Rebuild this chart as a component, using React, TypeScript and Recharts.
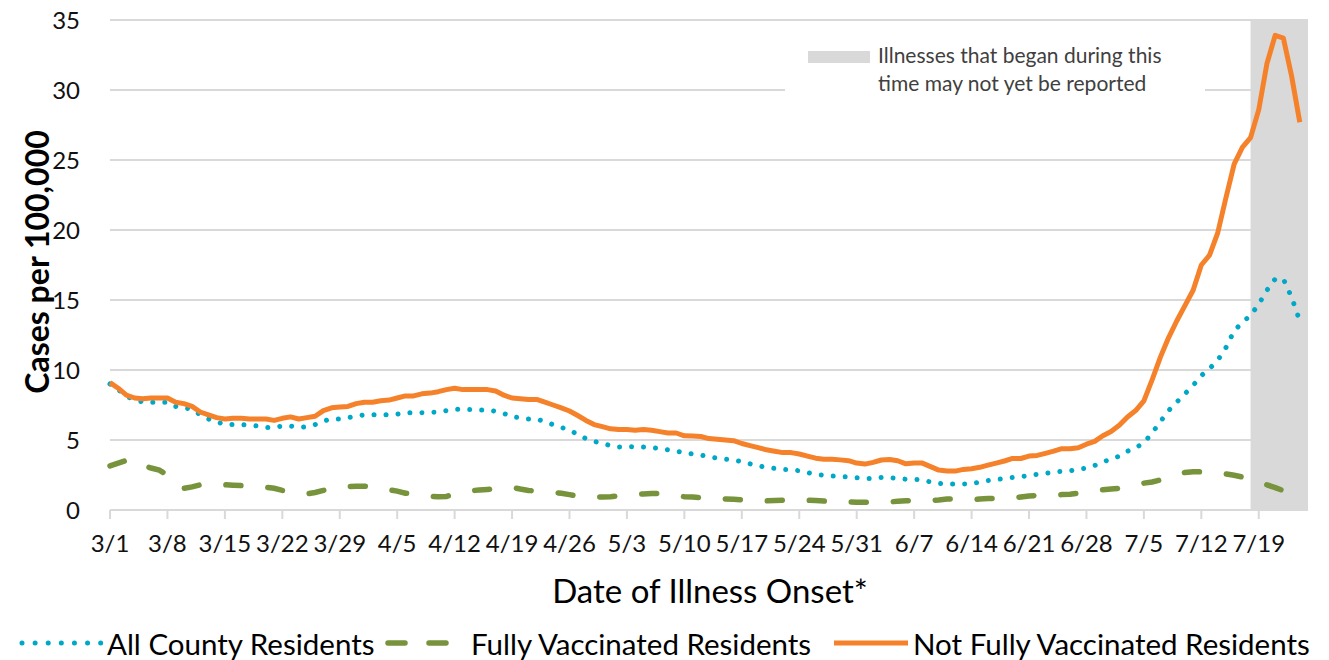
import React from 'react';
import { LineChart, Line, XAxis, YAxis, CartesianGrid, ReferenceArea } from 'recharts';

// Daily rates, 3/1 through 7/24 (cases per 100,000)
const notFullyVaccinated = [
  9.1, 8.7, 8.2, 8.0, 7.95, 8.0, 8.0, 8.0, 7.7, 7.6,
  7.4, 7.0, 6.8, 6.6, 6.5, 6.55, 6.55, 6.5, 6.5, 6.5,
  6.4, 6.55, 6.65, 6.5, 6.6, 6.7, 7.1, 7.3, 7.35, 7.4,
  7.6, 7.7, 7.7, 7.8, 7.85, 8.0, 8.15, 8.15, 8.3, 8.35,
  8.45, 8.6, 8.7, 8.6, 8.6, 8.6, 8.6, 8.5, 8.2, 8.0,
  7.95, 7.9, 7.9, 7.7, 7.5, 7.3, 7.07, 6.75, 6.4, 6.1,
  5.95, 5.8, 5.75, 5.75, 5.7, 5.75, 5.7, 5.6, 5.5, 5.5,
  5.3, 5.28, 5.25, 5.1, 5.05, 5.0, 4.95, 4.75, 4.6, 4.45,
  4.3, 4.2, 4.1, 4.1, 4.0, 3.85, 3.7, 3.63, 3.62, 3.58,
  3.52, 3.35, 3.28, 3.4, 3.57, 3.6, 3.52, 3.3, 3.35, 3.35,
  3.1, 2.85, 2.78, 2.78, 2.9, 2.95, 3.05, 3.2, 3.35, 3.5,
  3.68, 3.68, 3.85, 3.9, 4.05, 4.2, 4.38, 4.38, 4.45, 4.7,
  4.9, 5.3, 5.6, 6.05, 6.65, 7.1, 7.8, 9.3, 10.9, 12.3,
  13.5, 14.6, 15.7, 17.5, 18.2, 19.8, 22.3, 24.7, 25.9, 26.6,
  28.6, 31.9, 33.9, 33.7, 31.0, 27.7,
];

const allCounty = [
  9.0, 8.6, 8.1, 7.9, 7.7, 7.7, 7.7, 7.7, 7.4, 7.3,
  7.2, 6.8, 6.5, 6.3, 6.1, 6.1, 6.1, 6.05, 6.0, 5.9,
  5.9, 6.0, 6.0, 5.9, 5.95, 6.1, 6.35, 6.5, 6.5, 6.6,
  6.7, 6.8, 6.8, 6.8, 6.8, 6.85, 6.95, 6.95, 6.95, 6.97,
  7.0, 7.1, 7.2, 7.2, 7.17, 7.15, 7.15, 7.05, 6.9, 6.65,
  6.6, 6.5, 6.5, 6.3, 6.1, 5.9, 5.7, 5.4, 5.1, 4.9,
  4.75, 4.6, 4.5, 4.55, 4.5, 4.5, 4.45, 4.4, 4.3, 4.2,
  4.1, 4.0, 3.92, 3.8, 3.7, 3.63, 3.58, 3.45, 3.3, 3.15,
  3.05, 2.97, 2.9, 2.87, 2.8, 2.67, 2.55, 2.48, 2.43, 2.4,
  2.35, 2.3, 2.25, 2.25, 2.33, 2.32, 2.25, 2.2, 2.19, 2.15,
  2.0, 1.9, 1.85, 1.85, 1.86, 1.88, 2.0, 2.1, 2.17, 2.25,
  2.32, 2.38, 2.47, 2.55, 2.62, 2.7, 2.77, 2.8, 2.9, 3.0,
  3.18, 3.44, 3.62, 3.85, 4.2, 4.45, 4.8, 5.5, 6.3, 7.1,
  7.7, 8.3, 8.9, 9.6, 10.1, 10.7, 11.6, 12.8, 13.4, 13.9,
  14.7, 15.7, 16.5, 16.5, 15.2, 13.5,
];

const fullyVaccinated = [
  3.15, 3.35, 3.55, 3.6, 3.2, 3.0, 2.85, 2.5, 1.9, 1.55,
  1.65, 1.8, 1.85, 1.83, 1.8, 1.77, 1.74, 1.7, 1.63, 1.62,
  1.55, 1.4, 1.35, 1.3, 1.15, 1.25, 1.4, 1.55, 1.65, 1.68,
  1.7, 1.7, 1.65, 1.62, 1.45, 1.35, 1.2, 1.15, 1.1, 0.97,
  0.95, 0.97, 1.15, 1.3, 1.38, 1.43, 1.47, 1.52, 1.57, 1.62,
  1.5, 1.4, 1.35, 1.3, 1.25, 1.2, 1.1, 1.0, 0.93, 0.93,
  0.93, 0.95, 1.0, 1.05, 1.1, 1.15, 1.17, 1.19, 1.1, 1.0,
  0.95, 0.92, 0.88, 0.85, 0.82, 0.79, 0.76, 0.73, 0.7, 0.67,
  0.65, 0.67, 0.7, 0.71, 0.71, 0.7, 0.67, 0.64, 0.62, 0.6,
  0.57, 0.56, 0.55, 0.55, 0.56, 0.58, 0.62, 0.66, 0.67, 0.67,
  0.68, 0.72, 0.78, 0.78, 0.75, 0.72, 0.78, 0.82, 0.83, 0.83,
  0.85, 0.93, 1.0, 1.04, 1.06, 1.08, 1.1, 1.13, 1.2, 1.3,
  1.4, 1.45, 1.5, 1.55, 1.68, 1.82, 1.92, 2.0, 2.15, 2.35,
  2.55, 2.68, 2.74, 2.72, 2.7, 2.65, 2.58, 2.48, 2.35, 2.2,
  2.0, 1.8, 1.6, 1.38, 1.15, 0.9,
];

// weekly tick labels, one every 7 days starting 3/1
const tickLabels = [
  '3/1', '3/8', '3/15', '3/22', '3/29', '4/5', '4/12', '4/19', '4/26', '5/3', '5/10',
  '5/17', '5/24', '5/31', '6/7', '6/14', '6/21', '6/28', '7/5', '7/12', '7/19',
];
const yTicks = [0, 5, 10, 15, 20, 25, 30, 35];

// last week: reporting lag
const lagStart = 139;
const lagEnd = 146;

const data = notFullyVaccinated.map((v, i) => ({
  day: i,
  notFully: v,
  all: allCounty[i],
  fully: fullyVaccinated[i],
}));

const xTicks = tickLabels.map((_, i) => i * 7);

const ORANGE = '#F5822A';
const TEAL = '#00A8C8';
const GREEN = '#77933C';
const GRID = '#D9D9D9';
const FONT = 'Lato, "Open Sans", sans-serif';

const legendText: React.CSSProperties = {
  position: 'absolute', top: 643, transform: 'translateY(-50%)', fontSize: 29.5, color: '#000', whiteSpace: 'nowrap',
};

const App: React.FC = () => {
  return (
    <div style={{ position: 'absolute', left: 0, top: 0, width: 1329, height: 660, background: '#fff', fontFamily: FONT }}>
      <LineChart
        width={1329}
        height={660}
        data={data}
        margin={{ top: 20, right: 21, left: 0, bottom: 0 }}
        style={{ fontFamily: FONT }}
      >
        <CartesianGrid vertical={false} stroke={GRID} strokeWidth={2} />
        <ReferenceArea x1={lagStart} x2={lagEnd} fill={GRID} fillOpacity={1} stroke="none" />
        <XAxis
          dataKey="day"
          type="number"
          domain={[0, lagEnd]}
          ticks={xTicks}
          tickFormatter={(d: number) => tickLabels[d / 7]}
          height={150}
          interval={0}
          axisLine={{ stroke: GRID, strokeWidth: 2 }}
          tickLine={{ stroke: GRID, strokeWidth: 2 }}
          tickSize={9}
          tickMargin={16}
          tick={{ fontSize: 24, fill: '#111' }}
        />
        <YAxis
          domain={[0, 35]}
          ticks={yTicks}
          width={110}
          axisLine={false}
          tickLine={false}
          tickMargin={24}
          tick={{ fontSize: 24, fill: '#111' }}
        />
        <Line
          dataKey="all"
          stroke={TEAL}
          strokeWidth={5}
          strokeDasharray="0.01 12"
          strokeLinecap="round"
          dot={false}
          isAnimationActive={false}
        />
        <Line
          dataKey="fully"
          stroke={GREEN}
          strokeWidth={5.5}
          strokeDasharray="15 27"
          strokeLinecap="round"
          dot={false}
          isAnimationActive={false}
        />
        <Line
          dataKey="notFully"
          stroke={ORANGE}
          strokeWidth={5}
          strokeLinejoin="round"
          dot={false}
          isAnimationActive={false}
        />
      </LineChart>

      {/* note for the shaded week */}
      <div style={{ position: 'absolute', left: 785, top: 36, width: 420, height: 64, background: '#fff' }}>
        <div style={{ position: 'absolute', left: 23, top: 15, width: 62, height: 12, background: GRID }} />
        <div style={{ position: 'absolute', left: 93, top: 5, fontSize: 21, lineHeight: '28px', color: '#404040' }}>
          Illnesses that began during this
          <br />
          time may not yet be reported
        </div>
      </div>

      {/* axis titles */}
      <div
        style={{
          position: 'absolute', left: 36, top: 262, transform: 'translate(-50%, -50%) rotate(-90deg)',
          fontSize: 32, fontWeight: 700, whiteSpace: 'nowrap', color: '#000',
        }}
      >
        Cases per 100,000
      </div>
      <div style={{ position: 'absolute', left: 710, top: 590, transform: 'translate(-50%, -50%)', fontSize: 33, whiteSpace: 'nowrap', color: '#000' }}>
        Date of Illness Onset*
      </div>

      {/* legend */}
      <svg width={1329} height={20} style={{ position: 'absolute', left: 0, top: 633 }}>
        <line x1={22} y1={10} x2={101} y2={10} stroke={TEAL} strokeWidth={5} strokeDasharray="0.01 13.1" strokeLinecap="round" />
        <line x1={388} y1={10} x2={452} y2={10} stroke={GREEN} strokeWidth={5.5} strokeDasharray="17 24" strokeLinecap="round" />
        <line x1={834} y1={10} x2={908} y2={10} stroke={ORANGE} strokeWidth={5} />
      </svg>
      <span style={{ ...legendText, left: 107 }}>All County Residents</span>
      <span style={{ ...legendText, left: 471 }}>Fully Vaccinated Residents</span>
      <span style={{ ...legendText, left: 913 }}>Not Fully Vaccinated Residents</span>
    </div>
  );
};

export default App;
